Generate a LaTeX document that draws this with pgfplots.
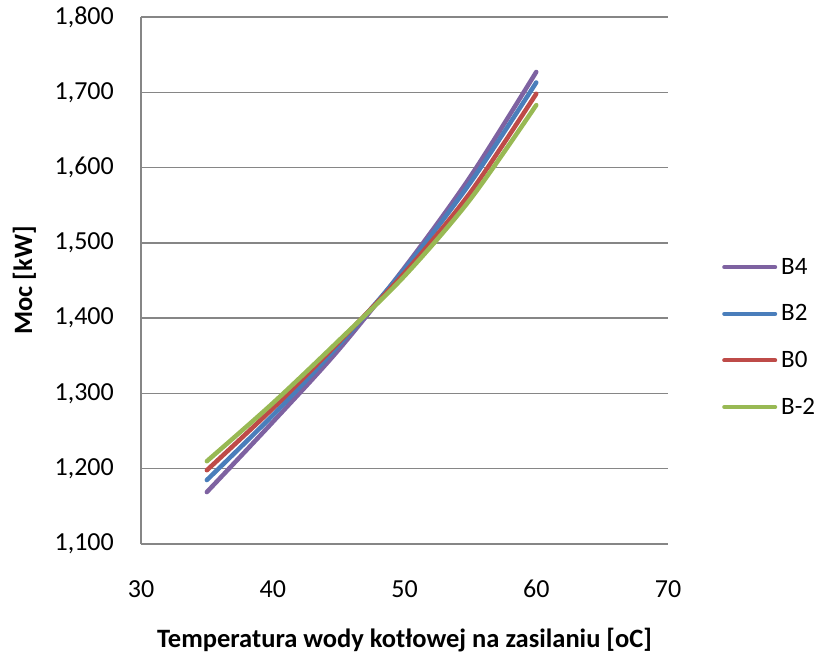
\documentclass[border=0pt]{standalone}
\usepackage{fontspec}
\setmainfont{Carlito}
\usepackage{pgfplots}
\pgfplotsset{compat=1.18}
\definecolor{cB4}{HTML}{7E62A1}
\definecolor{cB2}{HTML}{4A7EBB}
\definecolor{cB0}{HTML}{BE4B48}
\definecolor{cBm2}{HTML}{98B954}
\definecolor{gridgray}{HTML}{868686}

\begin{document}
\fontsize{25}{30}\selectfont
\begin{tikzpicture}
\begin{axis}[
  scale only axis,
  width=527pt, height=527pt,
  xmin=30, xmax=70,
  ymin=1100, ymax=1800,
  xtick={30,40,...,70},
  ytick={1100,1200,...,1800},
  axis x line*=bottom,
  axis y line*=left,
  axis line style={gridgray, line width=1.3pt},
  ymajorgrids,
  grid style={gridgray, line width=1.3pt},
  major tick length=0pt,
  /pgf/number format/assume math mode=true,
  /pgf/number format/1000 sep={,},
  tick label style={font=\fontsize{26}{30}\selectfont},
  yticklabel style={anchor=east, inner sep=0pt},
  xticklabel style={anchor=north, inner sep=0pt},
  yticklabel shift=27pt,
  xticklabel shift=36pt,
  xlabel={Temperatura wody kotłowej na zasilaniu [oC]},
  ylabel={Moc [kW]},
  label style={font=\fontsize{26.5}{30}\selectfont\bfseries},
  xlabel style={at={(axis description cs:0.5,-0.1973)}, anchor=base, inner sep=0pt},
  ylabel style={at={(axis description cs:-0.2068,0.5)}, anchor=base, inner sep=0pt},
  legend cell align=left,
  legend style={at={(axis description cs:1.1025,0.5427)}, anchor=north west,
    draw=none, fill=none, inner sep=0pt,
    nodes={inner sep=0pt, text height=16pt, text depth=0pt},
    row sep=30.6pt, column sep=4pt},
  legend image code/.code={\draw[#1, line width=4pt, line cap=round] (2pt,-1pt) -- (53pt,-1pt);},
  every axis plot/.append style={line width=4.5pt, line cap=round, smooth},
]
\addplot[cB4] coordinates {(35,1169) (40,1262) (45,1358) (50,1467) (55,1588) (60,1727)};
\addlegendentry{B4}
\addplot[cB2] coordinates {(35,1185) (40,1271) (45,1364) (50,1465) (55,1580) (60,1713)};
\addlegendentry{B2}
\addplot[cB0] coordinates {(35,1198) (40,1280) (45,1368) (50,1460) (55,1567) (60,1698)};
\addlegendentry{B0}
\addplot[cBm2] coordinates {(35,1210) (40,1287) (45,1370) (50,1456) (55,1558) (60,1683)};
\addlegendentry{B-2}
\end{axis}
\pgfresetboundingbox
\path[use as bounding box] (-141pt,-113pt) rectangle (675pt,544pt);
\end{tikzpicture}
\end{document}
